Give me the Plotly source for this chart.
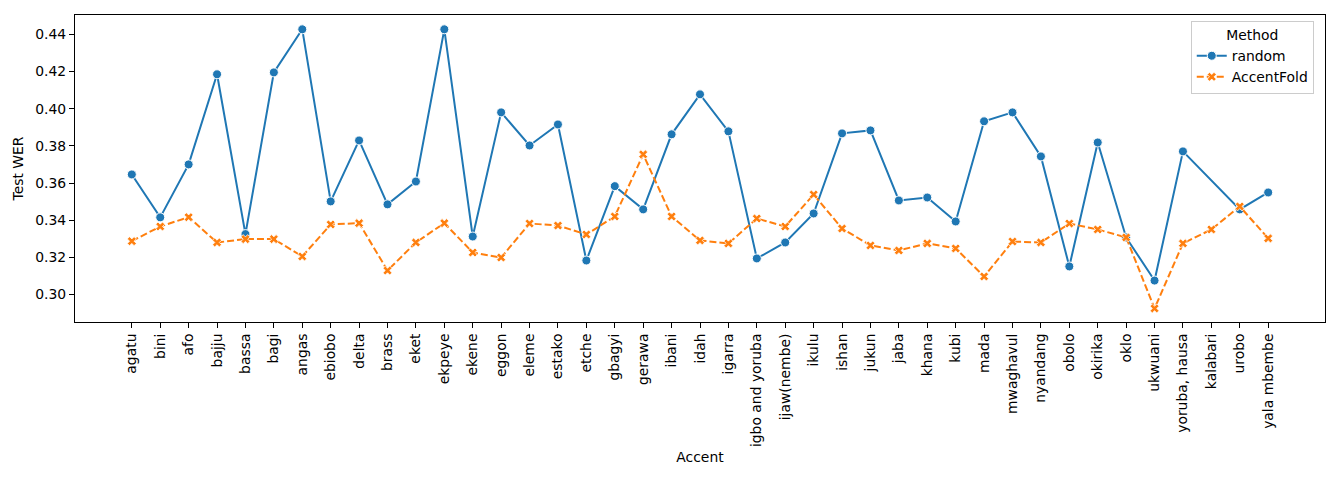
import plotly.graph_objects as go

accents = ["agatu", "bini", "afo", "bajju", "bassa", "bagi", "angas", "ebiobo", "delta", "brass",
           "eket", "ekpeye", "ekene", "eggon", "eleme", "estako", "etche", "gbagyi", "gerawa", "ibani",
           "idah", "igarra", "igbo and yoruba", "ijaw(nembe)", "ikulu", "ishan", "jukun", "jaba", "khana", "kubi",
           "mada", "mwaghavul", "nyandang", "obolo", "okirika", "oklo", "ukwuani", "yoruba, hausa", "kalabari", "urobo",
           "yala mbembe"]

random_wer = [0.3646, 0.3415, 0.3700, 0.4185, 0.3325, 0.4195, 0.4427, 0.3501, 0.3829, 0.3485,
              0.3608, 0.4427, 0.3312, 0.3980, 0.3802, 0.3915, 0.3183, 0.3583, 0.3458, 0.3862,
              0.4077, 0.3878, 0.3194, 0.3280, 0.3436, 0.3867, 0.3883, 0.3506, 0.3522, 0.3393,
              0.3932, 0.3980, 0.3743, 0.3151, 0.3818, 0.3307, 0.3075, 0.3770, None, 0.3458,
              0.3549]

accentfold_wer = [0.3287, 0.3366, 0.3416, 0.3280, 0.3298, 0.3298, 0.3205, 0.3377, 0.3384, 0.3129,
                  0.3280, 0.3384, 0.3226, 0.3199, 0.3382, 0.3371, 0.3323, 0.3420, 0.3754, 0.3420,
                  0.3291, 0.3275, 0.3409, 0.3366, 0.3538, 0.3355, 0.3264, 0.3237, 0.3275, 0.3248,
                  0.3097, 0.3285, 0.3280, 0.3382, 0.3350, 0.3307, 0.2925, 0.3275, 0.3350, 0.3474,
                  0.3302]

y_ticks = [0.30, 0.32, 0.34, 0.36, 0.38, 0.40, 0.42, 0.44]

FONT = "DejaVu Sans"
FS = 13.9

fig = go.Figure()
fig.add_trace(go.Scatter(
    x=accents, y=random_wer, name="random", mode="lines+markers",
    connectgaps=True,
    line=dict(color="#1f77b4", width=2),
    marker=dict(symbol="circle", size=9, color="#1f77b4", line=dict(color="white", width=1)),
))
fig.add_trace(go.Scatter(
    x=accents, y=accentfold_wer, name="AccentFold", mode="lines+markers",
    line=dict(color="#ff7f0e", width=2, dash="7px,3px"),
    marker=dict(symbol="x", size=8, color="#ff7f0e", line=dict(color="white", width=0.8)),
))

fig.update_layout(
    width=1324, height=464,
    margin=dict(l=67, r=7, t=7, b=150),
    plot_bgcolor="white", paper_bgcolor="white",
    font=dict(family=FONT, size=FS, color="black"),
    showlegend=True,
    legend=dict(
        title=dict(text="Method", side="top center", font=dict(size=FS)),
        x=0.991, y=0.98, xanchor="right", yanchor="top",
        bgcolor="rgba(255,255,255,0.8)", bordercolor="#cccccc", borderwidth=1,
        font=dict(size=FS),
    ),
)
fig.update_xaxes(
    type="category", range=[-2, 42],
    showline=True, linecolor="black", linewidth=1, mirror=True,
    ticks="outside", ticklen=5, tickcolor="black", tickangle=-90,
    showgrid=False, zeroline=False,
    title=dict(text="Accent", font=dict(size=FS), standoff=6),
    automargin=False,
)
fig.update_yaxes(
    range=[0.2852, 0.4504], tickvals=y_ticks, tickformat=".2f",
    showline=True, linecolor="black", linewidth=1, mirror=True,
    ticks="outside", ticklen=5, tickcolor="black",
    showgrid=False, zeroline=False,
    title=dict(text="Test WER", font=dict(size=FS), standoff=8),
    automargin=False,
)

fig.write_html("out.html")
